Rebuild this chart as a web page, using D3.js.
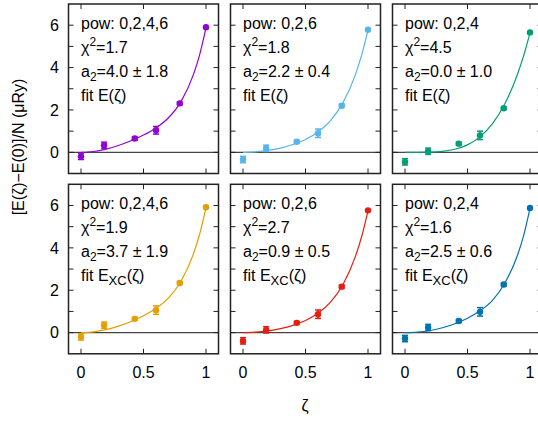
<!DOCTYPE html>
<html><head><meta charset="utf-8">
<script src="https://cdn.jsdelivr.net/npm/d3@7/dist/d3.min.js"></script>
<style>
body{margin:0;background:#fff;}
svg{display:block;font-family:"Liberation Sans",Arial,Helvetica,sans-serif;}
</style></head>
<body><svg id="c" width="538" height="421"></svg>
<script>
// ---- data ----
const zeta = [0, 0.185, 0.43, 0.6, 0.79, 1];
const xTicks = [0, 0.5, 1];
const yTicks = [-1, 0, 1, 2, 3, 4, 5, 6, 7];
const yTickLabels = [0, 2, 4, 6];
const curveZeta = [0, 0.1, 0.2, 0.3, 0.4, 0.5, 0.6, 0.7, 0.8, 0.9, 0.95, 1];

const p1Vals = [-0.19, 0.33, 0.65, 1.04, 2.31, 5.9];
const p2Vals = [-0.34, 0.19, 0.50, 0.90, 2.20, 5.79];
const p3Vals = [-0.45, 0.05, 0.41, 0.80, 2.08, 5.66];
const p4Vals = [-0.20, 0.35, 0.65, 1.06, 2.34, 5.92];
const p5Vals = [-0.39, 0.13, 0.46, 0.87, 2.17, 5.77];
const p6Vals = [-0.28, 0.24, 0.55, 0.98, 2.27, 5.88];

const p1Errs = [0.15, 0.15, 0.07, 0.18, 0.07, 0.03];
const p2Errs = [0.15, 0.15, 0.07, 0.20, 0.07, 0.03];
const p3Errs = [0.15, 0.15, 0.07, 0.20, 0.07, 0.03];
const p4Errs = [0.15, 0.15, 0.07, 0.20, 0.07, 0.03];
const p5Errs = [0.15, 0.15, 0.07, 0.20, 0.07, 0.03];
const p6Errs = [0.15, 0.15, 0.07, 0.20, 0.07, 0.03];

const p1Fit = [0, 0.039, 0.150, 0.323, 0.545, 0.813, 1.152, 1.632, 2.394, 3.676, 4.622, 5.87];
const p2Fit = [0, 0.022, 0.088, 0.201, 0.367, 0.606, 0.959, 1.498, 2.344, 3.679, 4.610, 5.77];
const p3Fit = [0, 0.001, 0.009, 0.046, 0.144, 0.351, 0.728, 1.349, 2.302, 3.687, 4.577, 5.64];
const p4Fit = [0, 0.037, 0.143, 0.309, 0.526, 0.796, 1.145, 1.643, 2.426, 3.722, 4.665, 5.90];
const p5Fit = [0, 0.021, 0.082, 0.187, 0.343, 0.570, 0.909, 1.436, 2.274, 3.611, 4.548, 5.75];
const p6Fit = [0, 0.025, 0.100, 0.230, 0.420, 0.680, 1.030, 1.520, 2.350, 3.650, 4.600, 5.86];

const powLabels = ["0,2,4,6", "0,2,6", "0,2,4", "0,2,4,6", "0,2,6", "0,2,4"];
const chi2Labels = ["1.7", "1.8", "4.5", "1.9", "2.7", "1.6"];
const a2Labels = ["4.0 ± 1.8", "2.2 ± 0.4", "0.0 ± 1.0", "3.7 ± 1.9", "0.9 ± 0.5", "2.5 ± 0.6"];
const fitSubs = ["", "", "", "XC", "XC", "XC"];
const colors = ["#9400d3", "#56b4e9", "#009e73", "#e69f00", "#e51e10", "#0072b2"];

const panels = [
  {vals: p1Vals, errs: p1Errs, fit: p1Fit},
  {vals: p2Vals, errs: p2Errs, fit: p2Fit},
  {vals: p3Vals, errs: p3Errs, fit: p3Fit},
  {vals: p4Vals, errs: p4Errs, fit: p4Fit},
  {vals: p5Vals, errs: p5Errs, fit: p5Fit},
  {vals: p6Vals, errs: p6Errs, fit: p6Fit}
];

// ---- layout ----
const svg = d3.select("#c");
const colX = [68.5, 230.5, 392.5];
const rowY = [4, 184.3];
const pw = 150, ph = 169.5;
const fs = 16;
const ink = "#000";

panels.forEach((p, i) => {
  const col = i % 3, row = Math.floor(i / 3);
  const x0 = colX[col], y0 = rowY[row];
  const x = d3.scaleLinear().domain([-0.1, 1.1]).range([x0, x0 + pw]);
  const y = d3.scaleLinear().domain([-1, 7]).range([y0 + ph, y0]);
  const g = svg.append("g");
  const col_ = colors[i];

  // zero line
  g.append("line").attr("x1", x0).attr("x2", x0 + pw)
    .attr("y1", y(0)).attr("y2", y(0)).attr("stroke", "#444").attr("stroke-width", 1.2);

  // fit curve
  const line = d3.line().x((d, k) => x(curveZeta[k])).y(d => y(d)).curve(d3.curveMonotoneX);
  g.append("path").attr("d", line(p.fit)).attr("fill", "none")
    .attr("stroke", col_).attr("stroke-width", 1.2);

  // error bars + points
  p.vals.forEach((v, k) => {
    const cx = x(zeta[k]);
    const e = p.errs[k];
    g.append("line").attr("x1", cx).attr("x2", cx).attr("y1", y(v - e)).attr("y2", y(v + e))
      .attr("stroke", col_).attr("stroke-width", 1.5);
    [v - e, v + e].forEach(t => {
      g.append("line").attr("x1", cx - 3).attr("x2", cx + 3).attr("y1", y(t)).attr("y2", y(t))
        .attr("stroke", col_).attr("stroke-width", 1.5);
    });
    g.append("circle").attr("cx", cx).attr("cy", y(v)).attr("r", 3.2).attr("fill", col_);
  });

  // ticks
  const tl = 5;
  yTicks.forEach(t => {
    if (t <= -1 || t >= 7) return;
    g.append("line").attr("x1", x0).attr("x2", x0 + tl).attr("y1", y(t)).attr("y2", y(t))
      .attr("stroke", "#222").attr("stroke-width", 1);
    g.append("line").attr("x1", x0 + pw - tl).attr("x2", x0 + pw).attr("y1", y(t)).attr("y2", y(t))
      .attr("stroke", "#222").attr("stroke-width", 1);
  });
  xTicks.forEach(t => {
    g.append("line").attr("x1", x(t)).attr("x2", x(t)).attr("y1", y0 + ph).attr("y2", y0 + ph - tl)
      .attr("stroke", "#222").attr("stroke-width", 1);
    g.append("line").attr("x1", x(t)).attr("x2", x(t)).attr("y1", y0).attr("y2", y0 + tl)
      .attr("stroke", "#222").attr("stroke-width", 1);
  });

  // frame
  g.append("rect").attr("x", x0).attr("y", y0).attr("width", pw).attr("height", ph)
    .attr("fill", "none").attr("stroke", "#222").attr("stroke-width", 1.5);

  // tick labels
  if (col === 0) {
    yTickLabels.forEach(t => {
      g.append("text").attr("x", 59).attr("y", y(t)).attr("dy", "0.36em")
        .attr("text-anchor", "end").attr("font-size", fs).attr("fill", ink).text(t);
    });
  }
  if (row === 1) {
    xTicks.forEach(t => {
      g.append("text").attr("x", x(t)).attr("y", 378).attr("text-anchor", "middle")
        .attr("font-size", fs).attr("fill", ink).text(t);
    });
  }

  // annotations
  const tx = x0 + 12.5;
  const by = y0 + 24.5;
  const dl = 24;
  g.append("text").attr("x", tx).attr("y", by).attr("font-size", fs).attr("fill", ink)
    .text("pow: " + powLabels[i]);
  const t2 = g.append("text").attr("x", tx).attr("y", by + dl).attr("font-size", fs).attr("fill", ink);
  t2.append("tspan").text("χ");
  t2.append("tspan").attr("dy", -7).attr("font-size", 12).text("2");
  t2.append("tspan").attr("dy", 7).text("=" + chi2Labels[i]);
  const t3 = g.append("text").attr("x", tx).attr("y", by + 2 * dl).attr("font-size", fs).attr("fill", ink);
  t3.append("tspan").text("a");
  t3.append("tspan").attr("dy", 4).attr("font-size", 12).text("2");
  t3.append("tspan").attr("dy", -4).text("=" + a2Labels[i]);
  const t4 = g.append("text").attr("x", tx).attr("y", by + 3 * dl).attr("font-size", fs).attr("fill", ink);
  if (fitSubs[i]) {
    t4.append("tspan").text("fit E");
    t4.append("tspan").attr("dy", 4).attr("font-size", 13).text(fitSubs[i]);
    t4.append("tspan").attr("dy", -4).text("(ζ)");
  } else {
    t4.append("tspan").text("fit E(ζ)");
  }
});

// axis titles
svg.append("text").attr("transform", "translate(24,147) rotate(-90)")
  .attr("text-anchor", "middle").attr("font-size", fs).attr("fill", ink)
  .text("[E(ζ)−E(0)]/N (μRy)");
svg.append("text").attr("x", 305).attr("y", 411).attr("text-anchor", "middle")
  .attr("font-size", fs).attr("fill", ink).text("ζ");
</script>
</body></html>
